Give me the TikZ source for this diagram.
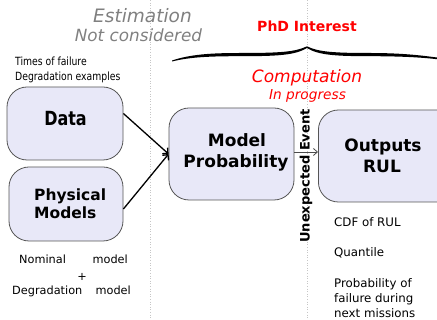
\documentclass[tikz,border=0pt]{standalone}
\usepackage{fontspec}
\setmainfont{DejaVu Sans}
\newfontfamily\condf[FakeStretch=0.82]{DejaVu Sans}
\usetikzlibrary{arrows.meta}
\definecolor{boxfill}{HTML}{E8E8F8}
\definecolor{boxline}{HTML}{555555}
\definecolor{phdred}{HTML}{FF0000}
\begin{document}
\begin{tikzpicture}[x=1pt,y=-1pt,
  box/.style={draw=boxline, fill=boxfill, rounded corners=20pt, line width=0.8pt, inner sep=0pt},
  txt/.style={inner sep=0pt, anchor=base},
  guide/.style={draw=gray!45, dotted, line width=0.6pt}]
\useasboundingbox (0,0) rectangle (437,320);
% guide lines
\coordinate (g1t) at (150,0); \coordinate (g1b) at (150,320);
\coordinate (g2t) at (307,0); \coordinate (g2b) at (307,320);
\draw[guide] (g1t) -- (g1b);
\draw[guide] (g2t) -- (g2b);
% top texts
\node[txt, text=gray, font=\fontsize{18.5}{20}\selectfont\itshape] (est) at (142.5,23) {Estimation};
\node[txt, text=gray, font=\fontsize{16.8}{18}\selectfont\itshape] (notc) at (138.5,42) {Not considered};
\node[txt, text=phdred, font=\fontsize{14}{16}\selectfont\bfseries] (phd) at (307,32) {PhD Interest};
% tapered brace
\fill[black] (172,60.5) .. controls (190,54.5) and (210,53) .. (240,53)
  .. controls (280,53) and (295,52) .. (307,46.3)
  .. controls (318,52) and (335,53) .. (370,53)
  .. controls (405,53) and (425,56) .. (437,57.5)
  -- (437,59.2)
  .. controls (425,57.8) and (405,56.2) .. (370,56.2)
  .. controls (335,56.2) and (318,55) .. (307,48)
  .. controls (295,55) and (280,56.2) .. (240,56.2)
  .. controls (210,56.2) and (190,57) .. (172,61.5) -- cycle;
\node[txt, text=phdred, font=\fontsize{17}{19}\selectfont\itshape] (comp) at (307,83) {Computation};
\node[txt, text=phdred, font=\fontsize{13.7}{15}\selectfont\itshape] (prog) at (307.5,100) {In progress};
% left labels
\node[txt, anchor=base west, font=\fontsize{11.3}{13}\condf] (tof) at (15,66) {Times of failure};
\node[txt, anchor=base west, font=\fontsize{11.3}{13}\condf] (dex) at (15,81) {Degradation examples};
% boxes
\node[box, minimum width=116pt, minimum height=73pt] (data) at (65,123.5) {};
\node[box, minimum width=114pt, minimum height=74pt] (phys) at (66,204) {};
\node[box, minimum width=125pt, minimum height=92pt] (model) at (231.5,154) {};
\node[box, minimum width=150pt, minimum height=92pt, anchor=west] (out) at (318,156) {};
% box texts
\node[txt, font=\fontsize{19.5}{21}\condf\bfseries] (datat) at (65.5,126) {Data};
\node[txt, anchor=base west, font=\fontsize{15.5}{17}\selectfont\bfseries] (physa) at (34,201) {Physical};
\node[txt, anchor=base west, font=\fontsize{15.5}{17}\selectfont\bfseries] (physb) at (34,219) {Models};
\node[txt, font=\fontsize{17}{19}\selectfont\bfseries] (modela) at (237,147) {Model};
\node[txt, font=\fontsize{17}{19}\selectfont\bfseries] (modelb) at (236,168) {Probability};
\node[txt, font=\fontsize{17}{19}\selectfont\bfseries] (outa) at (383,152) {Outputs};
\node[txt, font=\fontsize{17}{19}\selectfont\bfseries] (outb) at (382,173) {RUL};
% bottom left
\node[txt, anchor=base west, font=\fontsize{11.3}{13}\selectfont] (noma) at (19,264) {Nominal};
\node[txt, anchor=base east, font=\fontsize{11.3}{13}\selectfont] (nomb) at (128,264) {model};
\node[txt, font=\fontsize{11.3}{13}\selectfont] (plus) at (82,281) {+};
\node[txt, anchor=base west, font=\fontsize{11.3}{13}\selectfont] (dega) at (12,295) {Degradation};
\node[txt, anchor=base east, font=\fontsize{11.3}{13}\selectfont] (degb) at (131,295) {model};
% outputs list
\node[txt, anchor=base west, font=\fontsize{11.8}{13}\selectfont] (cdf) at (334,227) {CDF of RUL};
\node[txt, anchor=base west, font=\fontsize{11.8}{13}\selectfont] (quant) at (334,257) {Quantile};
\node[txt, anchor=base west, font=\fontsize{11.8}{13}\selectfont] (proba) at (334,288) {Probability of};
\node[txt, anchor=base west, font=\fontsize{11.8}{13}\selectfont] (probb) at (334,303) {failure during};
\node[txt, anchor=base west, font=\fontsize{11.8}{13}\selectfont] (probc) at (334,318) {next missions};
% connectors
\draw[line width=1.3pt, -{Straight Barb[length=4pt,width=8pt]}] ([yshift=10pt]data.east) -- (model.west);
\draw[line width=1.3pt, -{Straight Barb[length=4pt,width=8pt]}] ([yshift=-5pt]phys.east) -- (model.west);
\draw[gray!60!black, line width=0.8pt, -{Straight Barb[length=4pt,width=7pt]}] ([yshift=2pt]model.east) -- ([yshift=2pt]out.west |- model.east);
\node[rotate=90, inner sep=0pt, font=\fontsize{13}{15}\selectfont\bfseries] (ue) at (306,176) {Unexpected Event};
\end{tikzpicture}
\end{document}
